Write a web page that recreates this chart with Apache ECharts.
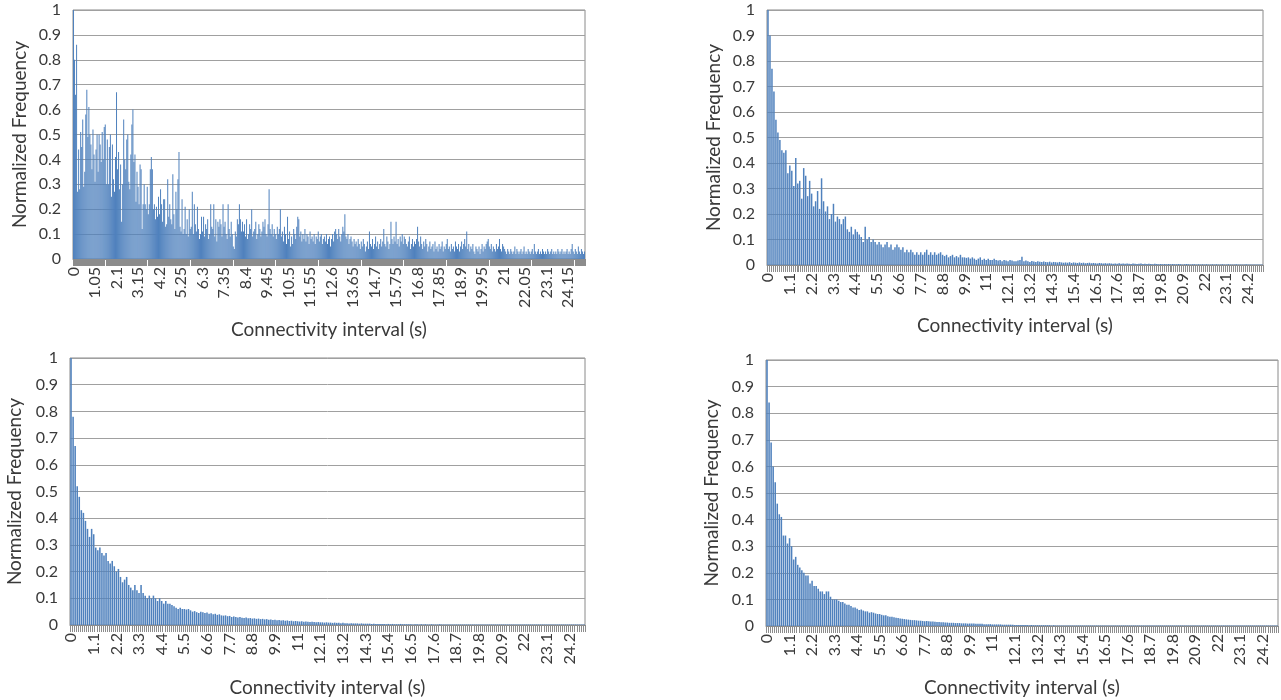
<!DOCTYPE html>
<html><head><meta charset="utf-8">
<script src="https://cdn.jsdelivr.net/npm/echarts@6/dist/echarts.min.js"></script>
<style>html,body{margin:0;padding:0;background:#fff}#c{width:1281px;height:700px}</style>
</head><body><div id="c"></div>
<script>
// Bin widths (s)
const binTL = 0.05, binOthers = 0.1;
const nTL = 500, nOthers = 250;
const xTitle = 'Connectivity interval (s)';
const yTitle = 'Normalized Frequency';

// Top-left panel values (0.05 s bins)
const valuesTL = [
1.00,0.80,0.66,0.86,0.27,0.44,0.28,0.51,0.45,0.56,0.29,0.35,0.58,0.68,0.49,0.61,0.50,0.46,0.36,0.52,0.42,0.31,0.44,0.50,0.35,
0.50,0.46,0.39,0.51,0.40,0.53,0.54,0.30,0.48,0.30,0.45,0.50,0.25,0.46,0.32,0.27,0.41,0.67,0.36,0.43,0.28,0.38,0.15,0.30,0.56,
0.40,0.36,0.48,0.50,0.31,0.28,0.42,0.54,0.60,0.39,0.42,0.23,0.35,0.29,0.22,0.38,0.36,0.12,0.22,0.30,0.22,0.20,0.29,0.18,0.22,
0.36,0.41,0.36,0.20,0.22,0.16,0.21,0.17,0.25,0.18,0.28,0.22,0.15,0.24,0.24,0.13,0.14,0.32,0.17,0.22,0.16,0.14,0.34,0.18,0.12,
0.27,0.20,0.32,0.43,0.13,0.11,0.24,0.10,0.12,0.21,0.10,0.16,0.09,0.20,0.12,0.13,0.27,0.10,0.22,0.14,0.11,0.21,0.12,0.08,0.10,
0.17,0.11,0.17,0.09,0.14,0.12,0.16,0.08,0.10,0.22,0.13,0.12,0.22,0.09,0.16,0.07,0.15,0.13,0.16,0.14,0.09,0.22,0.13,0.15,0.10,
0.08,0.22,0.12,0.09,0.15,0.10,0.05,0.04,0.11,0.09,0.16,0.14,0.22,0.16,0.11,0.15,0.11,0.14,0.09,0.16,0.08,0.10,0.14,0.12,0.20,
0.09,0.11,0.12,0.15,0.08,0.10,0.14,0.12,0.09,0.11,0.15,0.13,0.16,0.10,0.09,0.14,0.28,0.12,0.10,0.14,0.09,0.12,0.10,0.08,0.13,
0.10,0.12,0.20,0.09,0.11,0.07,0.13,0.10,0.06,0.17,0.08,0.11,0.05,0.09,0.06,0.12,0.10,0.08,0.13,0.17,0.16,0.09,0.11,0.07,0.10,
0.08,0.12,0.07,0.10,0.09,0.06,0.11,0.08,0.09,0.07,0.10,0.06,0.09,0.08,0.11,0.07,0.09,0.10,0.06,0.08,0.09,0.07,0.10,0.06,0.08,
0.09,0.05,0.08,0.10,0.07,0.11,0.12,0.10,0.08,0.12,0.09,0.07,0.10,0.13,0.11,0.18,0.09,0.08,0.10,0.06,0.08,0.09,0.07,0.05,0.08,
0.06,0.07,0.05,0.08,0.06,0.04,0.07,0.05,0.08,0.06,0.03,0.05,0.07,0.04,0.11,0.06,0.05,0.08,0.04,0.06,0.09,0.05,0.07,0.04,0.06,
0.08,0.05,0.07,0.12,0.06,0.05,0.09,0.07,0.04,0.06,0.15,0.08,0.06,0.09,0.07,0.15,0.06,0.08,0.05,0.09,0.07,0.10,0.06,0.09,0.08,
0.06,0.05,0.07,0.09,0.04,0.06,0.08,0.05,0.07,0.06,0.08,0.13,0.07,0.05,0.09,0.06,0.04,0.07,0.05,0.08,0.06,0.03,0.05,0.07,0.04,
0.05,0.06,0.03,0.07,0.04,0.05,0.03,0.06,0.04,0.05,0.07,0.03,0.05,0.04,0.06,0.08,0.04,0.05,0.03,0.06,0.04,0.05,0.03,0.07,0.05,
0.04,0.06,0.03,0.05,0.07,0.04,0.06,0.08,0.05,0.11,0.04,0.06,0.03,0.05,0.04,0.06,0.03,0.02,0.05,0.04,0.03,0.05,0.02,0.04,0.06,
0.03,0.05,0.04,0.06,0.07,0.08,0.05,0.04,0.06,0.03,0.05,0.04,0.03,0.06,0.04,0.05,0.08,0.04,0.03,0.06,0.05,0.04,0.03,0.02,0.04,
0.03,0.02,0.04,0.03,0.02,0.03,0.05,0.02,0.04,0.03,0.02,0.03,0.04,0.02,0.03,0.05,0.02,0.03,0.02,0.04,0.03,0.02,0.03,0.04,0.02,
0.06,0.03,0.02,0.03,0.04,0.02,0.03,0.02,0.04,0.03,0.02,0.03,0.02,0.04,0.03,0.02,0.03,0.04,0.02,0.03,0.02,0.03,0.02,0.04,0.03,
0.02,0.03,0.04,0.02,0.03,0.02,0.03,0.04,0.02,0.03,0.02,0.04,0.06,0.03,0.02,0.04,0.03,0.02,0.05,0.03,0.02,0.04,0.03,0.02,0.03
];

// Top-right panel values (0.1 s bins)
const valuesTR = [
1.00,0.90,0.77,0.68,0.57,0.52,0.49,0.45,0.44,0.45,0.36,0.39,0.37,0.31,0.42,0.32,0.33,0.26,0.38,0.35,0.27,0.33,0.28,0.23,0.25,
0.29,0.22,0.34,0.25,0.21,0.23,0.18,0.20,0.24,0.17,0.19,0.18,0.16,0.18,0.19,0.14,0.13,0.15,0.12,0.14,0.13,0.12,0.11,0.09,0.15,
0.10,0.11,0.09,0.10,0.09,0.08,0.09,0.08,0.07,0.08,0.09,0.07,0.08,0.06,0.07,0.08,0.07,0.06,0.07,0.05,0.06,0.05,0.06,0.05,0.04,
0.05,0.04,0.05,0.04,0.05,0.06,0.04,0.05,0.04,0.05,0.04,0.045,0.05,0.04,0.035,0.04,0.03,0.035,0.04,0.03,0.035,0.03,0.04,0.03,0.03,
0.028,0.03,0.025,0.03,0.025,0.02,0.025,0.03,0.02,0.025,0.02,0.025,0.02,0.02,0.025,0.02,0.018,0.02,0.015,0.02,0.018,0.015,0.02,0.018,0.015,
0.015,0.018,0.02,0.032,0.015,0.018,0.015,0.012,0.016,0.014,0.012,0.015,0.013,0.012,0.014,0.012,0.011,0.013,0.01,0.012,0.011,0.01,0.012,0.01,0.009,
0.01,0.009,0.011,0.008,0.01,0.009,0.008,0.01,0.008,0.009,0.007,0.008,0.009,0.007,0.008,0.007,0.006,0.008,0.007,0.006,0.007,0.006,0.007,0.006,0.005,
0.006,0.005,0.007,0.005,0.006,0.005,0.006,0.005,0.004,0.006,0.005,0.004,0.005,0.006,0.004,0.005,0.004,0.005,0.004,0.003,0.005,0.004,0.003,0.004,0.003,
0.004,0.003,0.004,0.003,0.004,0.003,0.003,0.004,0.003,0.002,0.003,0.004,0.003,0.002,0.003,0.003,0.002,0.003,0.002,0.003,0.002,0.003,0.002,0.002,0.003,
0.002,0.003,0.002,0.002,0.003,0.002,0.002,0.003,0.002,0.002,0.002,0.003,0.002,0.002,0.002,0.002,0.003,0.002,0.002,0.002,0.002,0.002,0.002,0.002,0.002
];

// Bottom-left panel values (0.1 s bins)
const valuesBL = [
1.00,0.78,0.67,0.52,0.48,0.43,0.42,0.39,0.36,0.33,0.36,0.34,0.29,0.28,0.29,0.27,0.26,0.27,0.24,0.23,0.24,0.22,0.20,0.21,0.18,
0.16,0.17,0.18,0.15,0.14,0.13,0.15,0.13,0.12,0.15,0.12,0.11,0.10,0.11,0.10,0.11,0.10,0.09,0.10,0.09,0.08,0.09,0.08,0.08,0.075,
0.07,0.065,0.06,0.065,0.06,0.06,0.058,0.06,0.055,0.05,0.052,0.048,0.045,0.05,0.048,0.045,0.047,0.042,0.044,0.04,0.042,0.038,0.04,0.036,0.035,
0.036,0.033,0.034,0.03,0.032,0.03,0.028,0.03,0.027,0.026,0.028,0.025,0.026,0.024,0.025,0.023,0.024,0.022,0.023,0.021,0.022,0.02,0.021,0.019,0.02,
0.018,0.019,0.017,0.018,0.016,0.017,0.015,0.016,0.014,0.015,0.014,0.013,0.014,0.012,0.013,0.012,0.011,0.012,0.011,0.01,0.011,0.01,0.01,0.009,0.01,
0.009,0.009,0.008,0.009,0.008,0.008,0.007,0.008,0.007,0.007,0.006,0.007,0.006,0.006,0.006,0.005,0.006,0.005,0.005,0.005,0.005,0.004,0.005,0.004,0.004,
0.004,0.004,0.004,0.003,0.004,0.003,0.004,0.003,0.003,0.003,0.004,0.003,0.003,0.003,0.003,0.003,0.002,0.003,0.003,0.002,0.003,0.002,0.003,0.002,0.002,
0.003,0.002,0.002,0.002,0.003,0.002,0.002,0.002,0.002,0.002,0.002,0.002,0.002,0.002,0.002,0.002,0.002,0.002,0.002,0.002,0.002,0.002,0.002,0.002,0.002,
0.002,0.002,0.002,0.002,0.002,0.002,0.002,0.002,0.002,0.002,0.002,0.002,0.002,0.002,0.002,0.002,0.002,0.002,0.002,0.002,0.002,0.002,0.002,0.002,0.002,
0.002,0.002,0.002,0.002,0.002,0.002,0.002,0.002,0.002,0.002,0.002,0.002,0.002,0.002,0.002,0.002,0.002,0.002,0.002,0.002,0.002,0.002,0.002,0.002,0.002
];

// Bottom-right panel values (0.1 s bins)
const valuesBR = [
1.00,0.84,0.69,0.60,0.54,0.46,0.42,0.41,0.34,0.34,0.31,0.33,0.30,0.25,0.26,0.23,0.22,0.21,0.20,0.19,0.19,0.16,0.17,0.15,0.15,
0.14,0.13,0.13,0.12,0.13,0.13,0.11,0.10,0.10,0.10,0.095,0.09,0.09,0.085,0.08,0.08,0.075,0.07,0.07,0.065,0.06,0.062,0.058,0.055,0.055,
0.05,0.052,0.05,0.047,0.045,0.045,0.042,0.04,0.04,0.037,0.035,0.035,0.033,0.031,0.03,0.028,0.027,0.026,0.025,0.024,0.023,0.022,0.022,0.021,0.02,
0.02,0.019,0.018,0.019,0.018,0.017,0.017,0.016,0.015,0.015,0.014,0.014,0.013,0.013,0.012,0.012,0.012,0.011,0.011,0.011,0.01,0.01,0.01,0.009,0.009,
0.009,0.009,0.008,0.008,0.008,0.008,0.007,0.007,0.007,0.007,0.006,0.006,0.006,0.006,0.006,0.005,0.005,0.005,0.005,0.005,0.005,0.004,0.004,0.004,0.004,
0.004,0.004,0.004,0.003,0.004,0.003,0.003,0.003,0.003,0.003,0.003,0.003,0.003,0.003,0.002,0.003,0.002,0.002,0.002,0.002,0.002,0.002,0.002,0.002,0.002,
0.002,0.002,0.002,0.002,0.002,0.002,0.002,0.002,0.002,0.002,0.002,0.002,0.002,0.002,0.002,0.002,0.002,0.002,0.002,0.002,0.002,0.002,0.002,0.002,0.002,
0.002,0.002,0.002,0.002,0.002,0.002,0.002,0.002,0.002,0.002,0.002,0.002,0.002,0.002,0.002,0.002,0.002,0.002,0.002,0.002,0.002,0.002,0.002,0.002,0.002,
0.002,0.002,0.002,0.002,0.002,0.002,0.002,0.002,0.002,0.002,0.002,0.002,0.002,0.002,0.002,0.002,0.002,0.002,0.002,0.002,0.002,0.002,0.002,0.002,0.002,
0.002,0.002,0.002,0.002,0.002,0.002,0.002,0.002,0.002,0.002,0.002,0.002,0.002,0.002,0.002,0.002,0.002,0.002,0.002,0.002,0.002,0.002,0.002,0.002,0.002
];

// Category labels (bin start times)
function makeCats(n, w) { const a = []; for (let i = 0; i < n; i++) a.push(String(+(i * w).toFixed(2))); return a; }
const catsTL = makeCats(nTL, binTL);
const catsOthers = makeCats(nOthers, binOthers);

const FONT = 'Lato';
const TXT = '#3a3a3a';
const BAR = '#4F81BD';

const panels = [
  {grid:{left:73, top:10, width:512, height:249}, cats:catsTL, data:valuesTL, lblInt:20, xGap:61, yGap:44},
  {grid:{left:767, top:10, width:496, height:255}, cats:catsOthers, data:valuesTR, lblInt:10, xGap:51, yGap:44},
  {grid:{left:70, top:358, width:515, height:267}, cats:catsOthers, data:valuesBL, lblInt:10, xGap:53, yGap:46},
  {grid:{left:766, top:360, width:512, height:266}, cats:catsOthers, data:valuesBR, lblInt:10, xGap:52, yGap:45}
];

const option = {
  animation:false,
  backgroundColor:'#fff',
  grid: panels.map(p => Object.assign({show:true, borderColor:'#8a8a8a', borderWidth:1}, p.grid)),
  xAxis: panels.map((p,i) => ({
    type:'category', gridIndex:i, data:p.cats, boundaryGap:true,
    name:xTitle, nameLocation:'middle', nameGap:p.xGap,
    nameTextStyle:{fontFamily:FONT, fontSize:19, color:TXT},
    axisLine:{show:true, lineStyle:{color:'#8a8a8a', width:1}},
    axisTick:{show:true, interval:0, length:7, lineStyle:{color:'#8c8c8c', width:1}},
    axisLabel:{interval:p.lblInt, rotate:90, margin:8, fontFamily:FONT, fontSize:16, color:TXT},
    splitLine:{show:false}
  })),
  yAxis: panels.map((p,i) => ({
    type:'value', gridIndex:i, min:0, max:1, interval:0.1,
    name:yTitle, nameLocation:'middle', nameGap:p.yGap, nameRotate:90,
    nameTextStyle:{fontFamily:FONT, fontSize:19, color:TXT},
    axisLine:{show:false}, axisTick:{show:false},
    axisLabel:{margin:12, fontFamily:FONT, fontSize:16, color:TXT},
    splitLine:{show:true, lineStyle:{color:'#a0a0a0', width:1}}
  })),
  series: panels.map((p,i) => ({
    type:'bar', xAxisIndex:i, yAxisIndex:i, data:p.data,
    barCategoryGap:'25%', itemStyle:{color:BAR}, silent:true
  }))
};
echarts.init(document.getElementById('c'), null, {renderer:'canvas'}).setOption(option);
</script>
</body></html>
